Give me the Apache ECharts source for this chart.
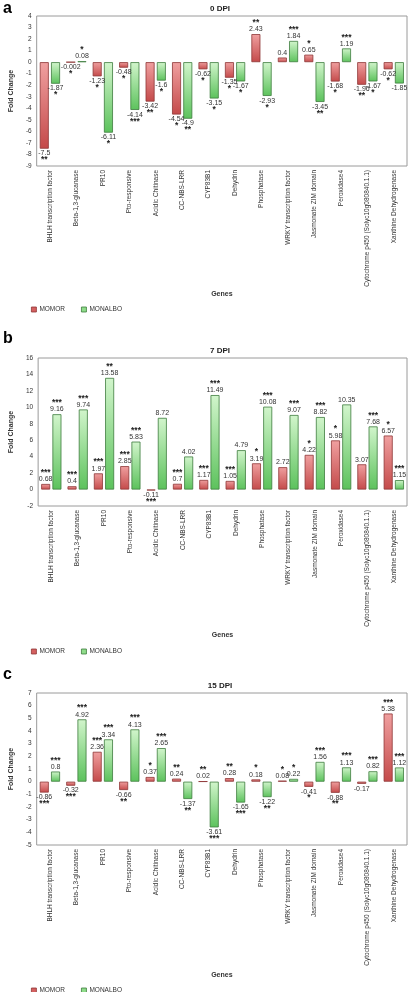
<!DOCTYPE html>
<html><head><meta charset="utf-8">
<script src="https://cdn.jsdelivr.net/npm/echarts@6/dist/echarts.min.js"></script>
<style>html,body{margin:0;padding:0;background:#fff}#c{width:412px;height:992px}</style>
</head><body><div id="c"></div>
<script>
const genes = ["BHLH transcription factor","Beta-1,3-glucanase","PR10","Pto-responsive","Acidic Chitinase","CC-NBS-LRR","CYP83B1","Dehydrin","Phosphatase","WRKY transcription factor","Jasmonate ZIM domain","Peroxidase4","Cytochrome p450 (Solyc10g080840.1.1)","Xanthine Dehydrogenase"];
const seriesNames = ["MOMOR","MONALBO"];
const panelTitles = ["0 DPI","7 DPI","15 DPI"];
const panelLetters = ["a","b","c"];

// 0 DPI
const momor0 = [-7.5,-0.002,-1.23,-0.48,-3.42,-4.54,-0.62,-1.35,2.43,0.4,0.65,-1.68,-1.96,-0.62];
const momor0Sig = ["**","*","*","*","**","*","*","*","**","","*","*","**","*"];
const monalbo0 = [-1.87,0.08,-6.11,-4.14,-1.6,-4.9,-3.15,-1.67,-2.93,1.84,-3.45,1.19,-1.67,-1.85];
const monalbo0Sig = ["*","*","*","***","*","**","*","*","*","***","**","***","*",""];
// 7 DPI
const momor7 = [0.68,0.4,1.97,2.85,-0.11,0.7,1.17,1.05,3.19,2.72,4.22,5.98,3.07,6.57];
const momor7Sig = ["***","***","***","***","***","***","***","***","*","","*","*","","*"];
const monalbo7 = [9.16,9.74,13.58,5.83,8.72,4.02,11.49,4.79,10.08,9.07,8.82,10.35,7.68,1.15];
const monalbo7Sig = ["***","***","**","***","","","***","","***","***","***","","***","***"];
// 15 DPI
const momor15 = [-0.86,-0.32,2.36,-0.66,0.37,0.24,0.02,0.28,0.18,0.08,-0.41,-0.88,-0.17,5.38];
const momor15Sig = ["***","***","***","**","*","**","**","**","*","*","*","**","","***"];
const monalbo15 = [0.8,4.92,3.34,4.13,2.65,-1.37,-3.61,-1.65,-1.22,0.22,1.56,1.13,0.82,1.12];
const monalbo15Sig = ["***","***","***","***","***","**","***","***","**","*","***","***","***","***"];

const yMin = [-9,-2,-5];
const yMax = [4,16,7];
const yInterval = [1,2,1];

const panels = [
  {vals:[momor0,monalbo0], sig:[momor0Sig,monalbo0Sig]},
  {vals:[momor7,monalbo7], sig:[momor7Sig,monalbo7Sig]},
  {vals:[momor15,monalbo15], sig:[momor15Sig,monalbo15Sig]}
];

const gridTops = [16,358,693];
const gridHeights = [150,148,152];
const legendTops = [301,643,982];
const FONT = "Liberation Sans, Arial, sans-serif";

const fills = [
  {type:'linear',x:0,y:0,x2:0,y2:1,colorStops:[{offset:0,color:'#f0a0a0'},{offset:1,color:'#c44a4a'}]},
  {type:'linear',x:0,y:0,x2:0,y2:1,colorStops:[{offset:0,color:'#d2f5cc'},{offset:1,color:'#5cc25c'}]}
];
const borders = ['#8e3636','#3e7c3e'];
const legendColors = ['#d46060','#8fdc8a'];

const grid=[],xAxis=[],yAxis=[],series=[],title=[],legend=[],graphic=[];
panels.forEach((p,i)=>{
  grid.push({left:24,right:5,top:gridTops[i],height:gridHeights[i],show:true,borderColor:'#9a9a9a',borderWidth:1,containLabel:false});
  xAxis.push({type:'category',gridIndex:i,data:genes,
    axisLine:{show:false},axisTick:{show:false},
    axisLabel:{rotate:90,fontSize:6.5,color:'#333',fontFamily:FONT,margin:4,interval:0},
    name:'Genes',nameLocation:'middle',nameGap:[125,126,127][i],
    nameTextStyle:{fontSize:7,fontWeight:'bold',color:'#333',fontFamily:FONT}});
  yAxis.push({type:'value',gridIndex:i,min:yMin[i],max:yMax[i],interval:yInterval[i],
    axisLine:{show:false},axisTick:{show:false},splitLine:{show:false},
    axisLabel:{fontSize:6.5,color:'#333',fontFamily:FONT,margin:5},
    name:'Fold Change',nameLocation:'middle',nameGap:14,nameRotate:90,
    nameTextStyle:{fontSize:7,fontWeight:'bold',color:'#333',fontFamily:FONT}});
  title.push({text:panelTitles[i],left:215,textAlign:'center',top:gridTops[i]-16,
    textStyle:{fontSize:8,fontWeight:'bold',color:'#222',fontFamily:FONT}});
  graphic.push({type:'text',left:3,top:gridTops[i]-[15,27,26][i],
    style:{text:panelLetters[i],fontSize:16,fontWeight:'bold',fill:'#000',fontFamily:FONT}});
  legend.push({top:legendTops[i],left:26,itemWidth:5,itemHeight:5,itemGap:16,icon:'rect',
    data:seriesNames.map((n,k)=>({name:n,itemStyle:{color:legendColors[k],borderColor:borders[k],borderWidth:0.8}})),
    textStyle:{fontSize:6.5,color:'#333',fontFamily:FONT,padding:[0,0,0,-2]},selectedMode:false});
  for(let s=0;s<2;s++){
    const data = p.vals[s].map((v,j)=>{
      const st = p.sig[s][j];
      const pos = v>=0?'top':'bottom';
      let txt;
      if(v>=0) txt = (st?'{s|'+st+'}\n':'')+'{v|'+v+'}';
      else txt = '{v|'+v+'}'+(st?'\n{s|'+st+'}':'');
      return {value:v,label:{position:pos,formatter:txt}};
    });
    series.push({type:'bar',name:seriesNames[s],xAxisIndex:i,yAxisIndex:i,data:data,
      barWidth:9,barGap:'25%',
      itemStyle:{color:fills[s],borderColor:borders[s],borderWidth:0.8},
      label:{show:true,distance:1,color:'#333',fontFamily:FONT,
        rich:{v:{fontSize:7,lineHeight:7.5,color:'#333',fontFamily:FONT},
              s:{fontSize:8.5,fontWeight:'bold',lineHeight:5.5,color:'#222',fontFamily:FONT}}},
      emphasis:{disabled:true},animation:false});
  }
});

const chart = echarts.init(document.getElementById('c'),null,{renderer:'canvas'});
chart.setOption({animation:false,backgroundColor:'#fff',grid,xAxis,yAxis,series,title,legend,graphic});
</script></body></html>
